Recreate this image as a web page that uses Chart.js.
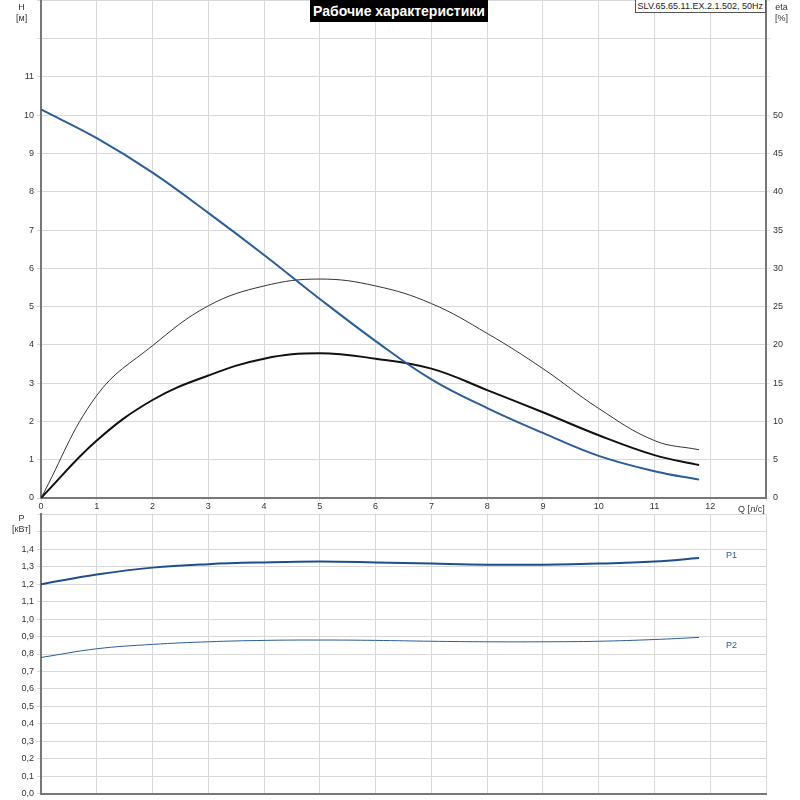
<!DOCTYPE html>
<html>
<head>
<meta charset="utf-8">
<script src="https://cdn.jsdelivr.net/npm/chart.js@4"></script>
<style>
  body { margin: 0; background: #fff; font-family: "Liberation Sans", Arial, sans-serif; overflow: hidden; }
  #wrap { position: relative; width: 800px; height: 800px; overflow: hidden; }
  canvas { position: absolute; left: 0; }
  .lbl { position: absolute; font-size: 9px; color: #333; line-height: 11px; text-align: center; }
  #title { position: absolute; left: 310px; top: 0; width: 178px; height: 22px; background: #000; color: #fff; white-space: nowrap;
           font: bold 14px "Liberation Sans Narrow", "Liberation Sans", Arial, sans-serif; text-align: center; line-height: 22px; }
  #model { position: absolute; right: 34px; top: 0; padding: 0 2px; height: 12px; border: 1px solid #555; border-top: none;
           background: #fff; font-size: 9px; line-height: 12px; color: #222; white-space: nowrap; }
</style>
</head>
<body>
<div id="wrap">
  <canvas id="top" width="800" height="520" style="top:-8px"></canvas>
  <canvas id="bottom" width="800" height="296" style="top:506px"></canvas>
  <div id="title">Рабочие характеристики</div>
  <div id="model">SLV.65.65.11.EX.2.1.502, 50Hz</div>
  <div class="lbl" style="left:16px;top:2px">H<br>[м]</div>
  <div class="lbl" style="left:775px;top:2px">eta<br>[%]</div>
  <div class="lbl" style="left:738px;top:504px">Q [л/с]</div>
  <div class="lbl" style="left:12px;top:513px">P<br>[кВт]</div>
  <div class="lbl" style="left:726px;top:550px;color:#2a5d9a">P1</div>
  <div class="lbl" style="left:726px;top:640px;color:#2a5d9a">P2</div>
</div>
<script>
// flow points [l/s]
var flow = [0, 1, 2, 3, 4, 5, 6, 7, 8, 9, 10, 11, 11.8];
// head [m]
var head = [10.15, 9.4, 8.5, 7.45, 6.35, 5.2, 4.1, 3.1, 2.35, 1.7, 1.1, 0.7, 0.48];
// efficiencies [%]
var etaHydraulic = [0, 13.4, 19.9, 25.1, 27.7, 28.6, 27.7, 25.4, 21.5, 16.9, 11.7, 7.5, 6.3];
var etaTotal = [0, 7.5, 12.8, 16, 18.2, 18.9, 18.2, 16.9, 14.1, 11.2, 8.2, 5.6, 4.3];
// power [kW]
var powerP1 = [1.2, 1.255, 1.295, 1.315, 1.325, 1.33, 1.325, 1.318, 1.312, 1.312, 1.318, 1.33, 1.35];
var powerP2 = [0.78, 0.83, 0.855, 0.87, 0.878, 0.88, 0.878, 0.873, 0.87, 0.87, 0.873, 0.883, 0.895];

function pts(ys) {
    return flow.map(function (x, i) { return { x: x, y: ys[i] }; });
}

var gridColor = '#d8d8d8';
var tickFont = { family: 'Liberation Sans', size: 9 };

function line(data, color, width, axis) {
    return { data: pts(data), borderColor: color, borderWidth: width, pointRadius: 0,
             tension: 0.4, yAxisID: axis || 'y', fill: false };
}

new Chart(document.getElementById('top'), {
    type: 'line',
    data: {
        datasets: [
            line(head, '#2a5d9a', 2),
            line(etaHydraulic, '#333', 1, 'y2'),
            line(etaTotal, '#111', 2, 'y2')
        ]
    },
    options: {
        responsive: false, animation: false,
        layout: { padding: 0 },
        plugins: { legend: { display: false }, tooltip: { enabled: false } },
        scales: {
            x: {
                type: 'linear', min: 0, max: 13,
                ticks: { stepSize: 1, color: '#333', font: tickFont, padding: 0,
                         callback: function (v) { return v <= 12 ? v : ''; } },
                grid: { color: gridColor, tickLength: 3 },
                border: { color: '#777', width: 2 },
                afterFit: function (s) { s.height = 14; }
            },
            y: {
                min: 0, max: 13,
                ticks: { stepSize: 1, color: '#333', font: tickFont,
                         callback: function (v) { return v <= 11 ? v : ''; } },
                grid: { color: gridColor, tickLength: 4 },
                border: { color: '#777', width: 2 },
                afterFit: function (s) { s.width = 41; }
            },
            y2: {
                position: 'right', min: 0, max: 65,
                ticks: { stepSize: 5, color: '#333', font: tickFont,
                         callback: function (v) { return v <= 50 ? v : ''; } },
                grid: { drawOnChartArea: false, tickLength: 4 },
                border: { color: '#777', width: 2 },
                afterFit: function (s) { s.width = 34; }
            }
        }
    }
});

new Chart(document.getElementById('bottom'), {
    type: 'line',
    data: {
        datasets: [
            line(powerP1, '#1f4f8a', 2),
            line(powerP2, '#2a5d9a', 1)
        ]
    },
    options: {
        responsive: false, animation: false,
        layout: { padding: { top: 0, right: 34 } },
        plugins: { legend: { display: false }, tooltip: { enabled: false } },
        scales: {
            x: {
                type: 'linear', min: 0, max: 13,
                ticks: { display: false, stepSize: 1 },
                grid: { color: gridColor, tickLength: 0 },
                border: { color: '#777', width: 2 },
                afterFit: function (s) { s.height = 0; }
            },
            y: {
                min: 0, max: 1.6,
                ticks: { stepSize: 0.1, color: '#333', font: tickFont,
                         callback: function (v) { return v <= 1.401 ? v.toFixed(1).replace('.', ',') : ''; } },
                grid: { color: gridColor, tickLength: 4 },
                border: { color: '#777', width: 2 },
                afterFit: function (s) { s.width = 41; }
            }
        }
    }
});
</script>
</body>
</html>
